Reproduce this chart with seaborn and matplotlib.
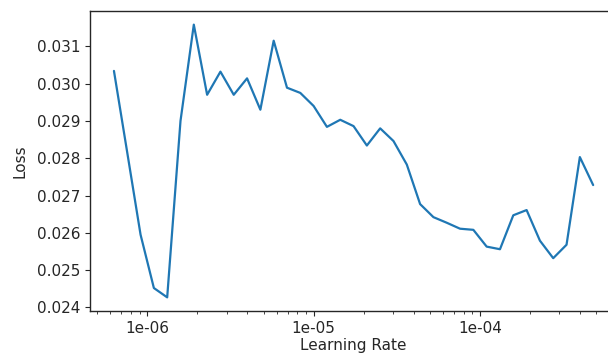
import numpy as np
import pandas as pd
import matplotlib
matplotlib.use("Agg")
import matplotlib.pyplot as plt
from matplotlib.ticker import FuncFormatter, LogLocator
import seaborn as sns

# Learning rates visited by the LR finder (log-spaced steps)
learning_rates = [
    6.310e-07, 7.586e-07, 9.120e-07, 1.0965e-06, 1.3183e-06, 1.5849e-06,
    1.9055e-06, 2.2909e-06, 2.7542e-06, 3.3113e-06, 3.9811e-06, 4.7863e-06,
    5.7544e-06, 6.9183e-06, 8.3176e-06, 1.0000e-05, 1.2023e-05, 1.4454e-05,
    1.7378e-05, 2.0893e-05, 2.5119e-05, 3.0200e-05, 3.6308e-05, 4.3652e-05,
    5.2481e-05, 6.3096e-05, 7.5858e-05, 9.1201e-05, 1.0965e-04, 1.3183e-04,
    1.5849e-04, 1.9055e-04, 2.2909e-04, 2.7542e-04, 3.3113e-04, 3.9811e-04,
    4.7863e-04,
]

# Smoothed training loss recorded at each learning rate
losses = [
    0.03034, 0.02815, 0.02595, 0.02452, 0.02427, 0.02900,
    0.03158, 0.02970, 0.03032, 0.02970, 0.03014, 0.02930,
    0.03115, 0.02989, 0.02975, 0.02940, 0.02884, 0.02903,
    0.02886, 0.02834, 0.02880, 0.02846, 0.02783, 0.02677,
    0.02642, 0.02627, 0.02611, 0.02608, 0.02563, 0.02556,
    0.02647, 0.02661, 0.02579, 0.02532, 0.02568, 0.02803,
    0.02728,
]

x_ticks = [1e-06, 1e-05, 1e-04]
x_label = "Learning Rate"
y_label = "Loss"

df = pd.DataFrame({"lr": learning_rates, "loss": losses})

sns.set_style("ticks")
plt.rcParams["font.family"] = ["DejaVu Sans"]

fig = plt.figure(figsize=(6.08, 3.54), dpi=100)
ax = fig.add_axes([0.148, 0.1215, 0.867, 0.8474])

sns.lineplot(data=df, x="lr", y="loss", ax=ax, color="#1f77b4",
             linewidth=1.6, sort=False)

ax.set_xscale("log")
ax.set_xticks(x_ticks)
ax.xaxis.set_major_formatter(FuncFormatter(lambda v, _: f"{v:.0e}"))
ax.xaxis.set_minor_locator(LogLocator(base=10, subs=np.arange(2, 10)))
ax.xaxis.set_minor_formatter(FuncFormatter(lambda v, _: ""))
ax.yaxis.set_major_formatter(FuncFormatter(lambda v, _: f"{v:.3f}"))

ax.set_xlabel(x_label, fontsize=11, labelpad=2, color="#262626")
ax.set_ylabel(y_label, fontsize=11, labelpad=7, color="#262626")
ax.tick_params(axis="both", labelsize=11, colors="#262626")
for side in ["left", "right", "top", "bottom"]:
    ax.spines[side].set_visible(True)
    ax.spines[side].set_color("#262626")
    ax.spines[side].set_linewidth(1.0)

fig.savefig("out.png", dpi=100)
